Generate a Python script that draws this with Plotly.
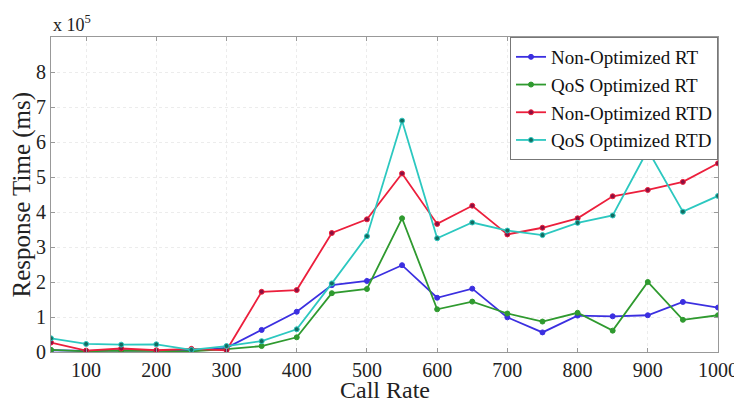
import plotly.graph_objects as go

call_rate = [50, 100, 150, 200, 250, 300, 350, 400, 450, 500, 550, 600, 650, 700, 750, 800, 850, 900, 950, 1000]

non_opt_rt = [0.05, 0.03, 0.05, 0.03, 0.03, 0.12, 0.63, 1.15, 1.91, 2.03, 2.48, 1.55, 1.81, 0.99, 0.56, 1.04, 1.02, 1.05, 1.43, 1.27]
qos_opt_rt = [0.06, 0.02, 0.04, 0.02, 0.02, 0.08, 0.17, 0.42, 1.68, 1.80, 3.82, 1.22, 1.44, 1.10, 0.87, 1.12, 0.61, 2.00, 0.92, 1.05]
non_opt_rtd = [0.27, 0.04, 0.10, 0.05, 0.09, 0.05, 1.72, 1.77, 3.40, 3.79, 5.10, 3.66, 4.18, 3.36, 3.55, 3.82, 4.45, 4.63, 4.86, 5.39]
qos_opt_rtd = [0.39, 0.23, 0.21, 0.22, 0.06, 0.17, 0.31, 0.65, 1.96, 3.31, 6.61, 3.25, 3.70, 3.47, 3.34, 3.69, 3.90, 5.77, 4.01, 4.46]

scale = 1e5
y_ticks = [0, 1, 2, 3, 4, 5, 6, 7, 8]
x_ticks = [100, 200, 300, 400, 500, 600, 700, 800, 900, 1000]

series = [
    ("Non-Optimized RT", non_opt_rt, "#3b2fe0", "#3b2fe0"),
    ("QoS Optimized RT", qos_opt_rt, "#2f9a2f", "#2f9a2f"),
    ("Non-Optimized RTD", non_opt_rtd, "#ec1f3c", "#8a1040"),
    ("QoS Optimized RTD", qos_opt_rtd, "#2cc8c0", "#136b60"),
]

fig = go.Figure()
for name, vals, lc, mc in series:
    fig.add_trace(go.Scatter(
        x=call_rate, y=[v * scale for v in vals], name=name,
        mode="lines+markers",
        line=dict(color=lc, width=1.8),
        marker=dict(color=mc, size=5, line=dict(color=lc, width=1)),
    ))

ff = "Liberation Serif"
fig.update_layout(
    width=742, height=403,
    margin=dict(l=43, r=28, t=29, b=59),
    paper_bgcolor="white", plot_bgcolor="white",
    font=dict(family=ff, size=20, color="#222"),
    showlegend=True,
    legend=dict(
        x=1, y=1, xanchor="right", yanchor="top",
        bgcolor="white", bordercolor="#777", borderwidth=1,
        font=dict(size=19, family=ff, color="#111"),
        tracegroupgap=0, itemwidth=30,
    ),
    xaxis=dict(
        range=[50, 1000], tickvals=x_ticks, ticktext=[str(t) for t in x_ticks],
        tickfont=dict(family=ff, size=20, color="#222"),
        showgrid=True, gridcolor="#ececec", griddash="dot",
        showline=True, linecolor="#999", mirror="ticks",
        ticks="inside", ticklen=4, tickcolor="#999",
        zeroline=False,
    ),
    yaxis=dict(
        range=[0, 9 * scale], tickvals=[t * scale for t in y_ticks],
        ticktext=[str(t) for t in y_ticks],
        tickfont=dict(family=ff, size=20, color="#222"),
        showgrid=True, gridcolor="#ececec", griddash="dot",
        showline=True, linecolor="#999", mirror="ticks",
        ticks="inside", ticklen=4, tickcolor="#999",
        zeroline=False,
    ),
    annotations=[
        dict(text="x 10<sup>5</sup>", xref="paper", yref="paper",
             x=0.0, y=1.0, xanchor="left", yanchor="bottom", yshift=0,
             showarrow=False, font=dict(size=18, family=ff, color="#222")),
        dict(text="Call Rate", xref="paper", yref="paper",
             x=0.5, y=0, xanchor="center", yanchor="middle", yshift=-38,
             showarrow=False, font=dict(size=24, family=ff, color="#222")),
        dict(text="Response Time (ms)", xref="paper", yref="paper",
             x=0, y=0.5, xanchor="center", yanchor="middle", xshift=-30,
             textangle=-90,
             showarrow=False, font=dict(size=25, family=ff, color="#222")),
    ],
)

fig.write_html("out.html")
